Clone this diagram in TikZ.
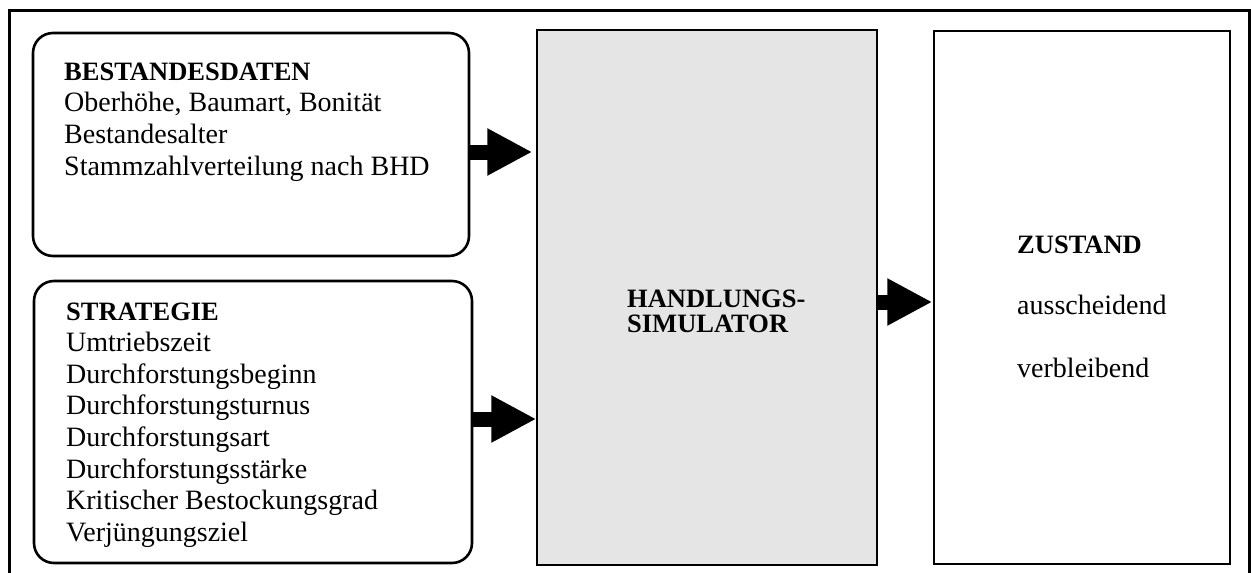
\documentclass[tikz,border=0pt]{standalone}
\usepackage{fontspec}
\setmainfont{Liberation Serif}
\usetikzlibrary{arrows.meta}
\tikzset{
  frameline/.style={line width=3.5pt},
  roundbox/.style={draw, line width=2.6pt, rounded corners=20pt, inner sep=0pt},
  plainbox/.style={draw, line width=1.4pt, inner sep=0pt},
  txt/.style={anchor=base west, inner sep=0pt, font=\fontsize{28}{32}\selectfont},
  headtxt/.style={anchor=base west, inner sep=0pt, font=\fontsize{26.5}{30}\selectfont\bfseries},
  blockarrow/.style={line width=15pt, -{Triangle[length=45pt,width=44pt]}},
}
\begin{document}
\begin{tikzpicture}[x=1pt,y=-1pt]
\clip (0,0) rectangle (1251,573);
\fill[white] (0,0) rectangle (1251,573);
\draw[frameline] (9.5,600) -- (9.5,10.5) -- (1249.5,10.5) -- (1249.5,600);

% boxes
\node[roundbox, minimum width=436pt, minimum height=223pt] (b1) at (251,144.5) {};
\node[roundbox, minimum width=438pt, minimum height=282pt] (b2) at (253,422) {};
\node[plainbox, fill=black!10, minimum width=340pt, minimum height=535pt] (sim) at (707,297.5) {};
\node[plainbox, minimum width=296pt, minimum height=533pt] (zus) at (1082,297.5) {};

% texts box 1
\node[headtxt] (h1) at (64,80) {BESTANDESDATEN};
\foreach \t [count=\i] in {{Oberhöhe, Baumart, Bonität},Bestandesalter,Stammzahlverteilung nach BHD}
  \node[txt] (bl\i) at (64,80+31.7*\i) {\t};

% texts box 2
\node[headtxt] (h2) at (66,320) {STRATEGIE};
\foreach \t [count=\i] in {Umtriebszeit,Durchforstungsbeginn,Durchforstungsturnus,Durchforstungsart,Durchforstungsstärke,Kritischer Bestockungsgrad,Verjüngungsziel}
  \node[txt] (sl\i) at (66,320+31.6*\i) {\t};

% simulator
\node[headtxt] (h3a) at (627,307) {HANDLUNGS-};
\node[headtxt] (h3b) at (627,332) {SIMULATOR};

% zustand
\node[headtxt] (h4) at (1017,253) {ZUSTAND};
\node[txt] (z1) at (1017,314) {ausscheidend};
\node[txt] (z2) at (1017,377) {verbleibend};

% arrows
\coordinate (y1) at (0,152);
\coordinate (y2) at (0,419);
\coordinate (y3) at (0,302);
\draw[blockarrow, shorten >=4pt] (b1.east |- y1) -- (sim.west |- y1);
\draw[blockarrow] (b2.east |- y2) -- (sim.west |- y2);
\draw[blockarrow, shorten >=1pt] (sim.east |- y3) -- (zus.west |- y3);
\end{tikzpicture}
\end{document}
